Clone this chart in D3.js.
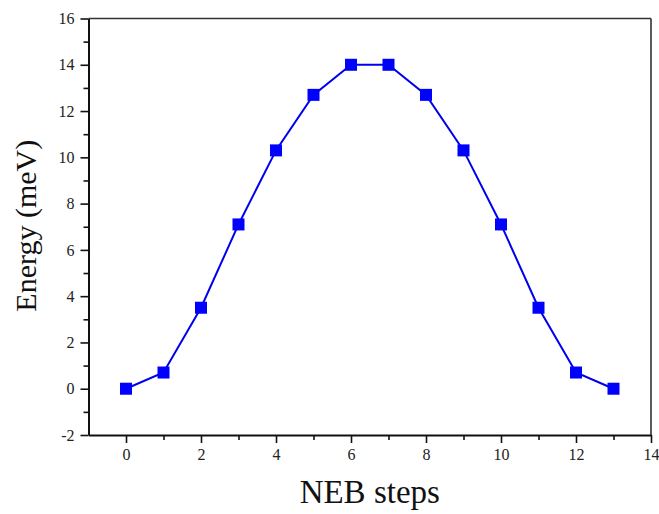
<!DOCTYPE html>
<html>
<head>
<meta charset="utf-8">
<script src="https://cdn.jsdelivr.net/npm/d3@7"></script>
<style>
  body { margin: 0; background: #fff; }
  .axis path, .axis line { stroke: #111; }
  .title { font-family: "Liberation Serif", "Times New Roman", serif; fill: #111; }
</style>
</head>
<body>
<div id="chart"></div>
<script>
var steps = [0, 1, 2, 3, 4, 5, 6, 7, 8, 9, 10, 11, 12, 13];
var energy = [0, 0.7, 3.5, 7.1, 10.3, 12.7, 14.0, 14.0, 12.7, 10.3, 7.1, 3.5, 0.7, 0];
var xTicks = [0, 2, 4, 6, 8, 10, 12, 14];
var yTicks = [-2, 0, 2, 4, 6, 8, 10, 12, 14, 16];

var W = 659, H = 514;
var margin = {top: 18.5, right: 8, bottom: 79, left: 88.5};
var width = W - margin.left - margin.right,
    height = H - margin.top - margin.bottom;

var svg = d3.select("#chart").append("svg")
    .attr("width", W)
    .attr("height", H);

var chart = svg.append("g")
    .attr("transform", "translate(" + margin.left + "," + margin.top + ")");

var x = d3.scaleLinear().domain([-1, 14]).range([0, width]);
var y = d3.scaleLinear().domain([-2, 16]).range([height, 0]);

// frame top and right
chart.append("line")
    .attr("x1", 0).attr("x2", width).attr("y1", 0).attr("y2", 0)
    .attr("stroke", "#333").attr("stroke-width", 1.6);
chart.append("line")
    .attr("x1", width).attr("x2", width).attr("y1", 0).attr("y2", height)
    .attr("stroke", "#333").attr("stroke-width", 1.6);

// minor ticks
var xMinor = d3.range(1, 14, 2);
var yMinor = d3.range(-1, 16, 2);

chart.append("g")
    .attr("class", "axis")
    .attr("transform", "translate(0," + height + ")")
    .call(d3.axisBottom(x).tickValues(xMinor).tickSize(5).tickFormat(""))
    .call(function(g) { g.select(".domain").remove(); })
    .selectAll("line").attr("stroke-width", 1.6);

chart.append("g")
    .attr("class", "axis")
    .call(d3.axisLeft(y).tickValues(yMinor).tickSize(5).tickFormat(""))
    .call(function(g) { g.select(".domain").remove(); })
    .selectAll("line").attr("stroke-width", 1.6);

var fmt = function(d) { return String(d); };

var xAxis = chart.append("g")
    .attr("class", "axis")
    .attr("transform", "translate(0," + height + ")")
    .call(d3.axisBottom(x).tickValues(xTicks).tickSize(8).tickSizeOuter(0).tickPadding(6).tickFormat(fmt));

var yAxis = chart.append("g")
    .attr("class", "axis")
    .call(d3.axisLeft(y).tickValues(yTicks).tickSize(8).tickSizeOuter(0).tickPadding(6).tickFormat(fmt));

[xAxis, yAxis].forEach(function(a) {
    a.selectAll("text")
        .style("font-family", "'Liberation Serif', 'Times New Roman', serif")
        .style("font-size", "16px")
        .attr("fill", "#222");
    a.selectAll("line").attr("stroke-width", 1.6);
    a.select(".domain").attr("stroke-width", 2);
});

// series
var pts = steps.map(function(s, i) { return {x: s, y: energy[i]}; });

var line = d3.line()
    .x(function(d) { return x(d.x); })
    .y(function(d) { return y(d.y); });

chart.append("path")
    .datum(pts)
    .attr("fill", "none")
    .attr("stroke", "#0000ee")
    .attr("stroke-width", 2)
    .attr("d", line);

var sq = 12;
chart.selectAll(".pt")
    .data(pts)
    .enter().append("rect")
    .attr("class", "pt")
    .attr("x", function(d) { return x(d.x) - sq / 2; })
    .attr("y", function(d) { return y(d.y) - sq / 2; })
    .attr("width", sq)
    .attr("height", sq)
    .attr("fill", "#0000ff");

// titles
svg.append("text")
    .attr("class", "title")
    .attr("x", margin.left + width / 2)
    .attr("y", 503)
    .attr("font-size", 33)
    .attr("text-anchor", "middle")
    .text("NEB steps");

svg.append("text")
    .attr("class", "title")
    .attr("transform", "rotate(-90)")
    .attr("x", -(margin.top + height / 2) + 1)
    .attr("y", 36)
    .attr("font-size", 30)
    .attr("text-anchor", "middle")
    .text("Energy (meV)");
</script>
</body>
</html>
